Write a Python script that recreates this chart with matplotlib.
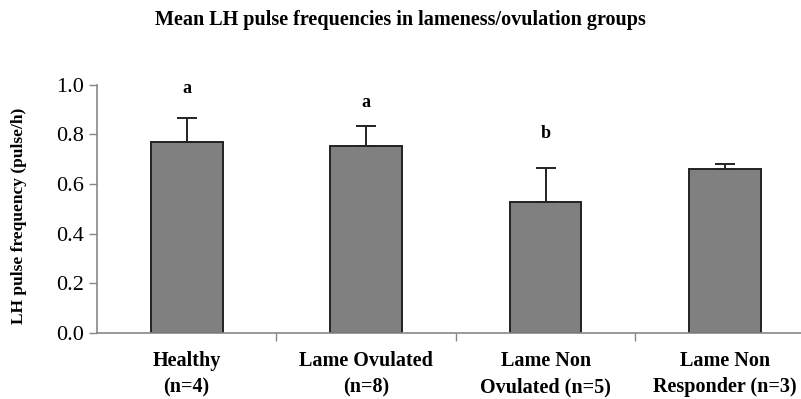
import matplotlib
matplotlib.use("Agg")
import matplotlib.pyplot as plt
import numpy as np

# values
groups = ["Healthy\n(n=4)", "Lame Ovulated\n(n=8)", "Lame Non\nOvulated (n=5)", "Lame Non\nResponder (n=3)"]
means = [0.77, 0.752, 0.528, 0.659]
sems = [0.094, 0.082, 0.137, 0.022]
letters = ["a", "a", "b", ""]
letter_y = [0.986, 0.927, 0.803, 0.0]

plt.rcParams.update({
    "font.family": "serif",
    "font.serif": ["Liberation Serif", "DejaVu Serif"],
})

fig = plt.figure(figsize=(8.01, 3.99), dpi=100)
ax = fig.add_axes([0.121, 0.165, 0.885, 0.623])

x = np.arange(len(groups))
ax.bar(x, means, width=0.40, color="#808080", edgecolor="#222222", linewidth=1.4, zorder=2)
ax.errorbar(x, means, yerr=[np.zeros(len(sems)), sems], fmt="none", ecolor="#222222",
            elinewidth=1.4, capsize=7, capthick=1.4, zorder=3)

for xi, lab, ly in zip(x, letters, letter_y):
    if lab:
        ax.text(xi, ly, lab, ha="center", va="center", fontsize=13, fontweight="bold")

ax.set_xlim(-0.5, 3.45)
ax.set_ylim(0, 1.0)
ax.set_yticks(np.arange(0, 1.01, 0.2))
ax.set_yticklabels([f"{v:.1f}" for v in np.arange(0, 1.01, 0.2)], fontsize=16)
ax.set_xticks(x)
ax.set_xticklabels(groups, fontsize=14.5, fontweight="bold", linespacing=1.4)
ax.tick_params(axis="x", length=0, pad=13)
ax.set_xticks([0.5, 1.5, 2.5], minor=True)
ax.tick_params(axis="x", which="minor", length=6, color="#888888", width=1)
ax.tick_params(axis="y", length=6, color="#888888", width=1, pad=3)

for s in ("top", "right"):
    ax.spines[s].set_visible(False)
for s in ("left", "bottom"):
    ax.spines[s].set_color("#888888")
    ax.spines[s].set_linewidth(1.2)

ax.set_ylabel("LH pulse frequency (pulse/h)", fontsize=12.5, fontweight="bold")
ax.yaxis.set_label_coords(-0.098, 0.47)
fig.text(0.5, 0.95, "Mean LH pulse frequencies in lameness/ovulation groups",
         ha="center", va="center", fontsize=14.5, fontweight="bold")

fig.savefig("out.png", dpi=100)
